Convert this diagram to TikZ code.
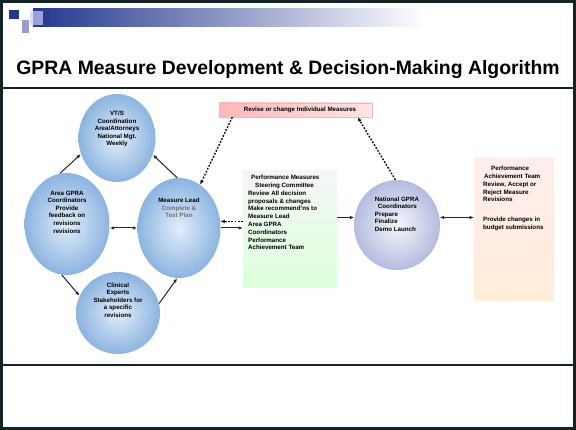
\documentclass[tikz,border=0pt]{standalone}
\usepackage{fontspec}
\setmainfont{Liberation Sans}
\usetikzlibrary{shapes.geometric,arrows.meta}
\definecolor{frame}{RGB}{20,35,35}
\definecolor{logoblue}{RGB}{35,55,140}
\definecolor{bubbleout}{RGB}{140,180,224}
\definecolor{bubblein}{RGB}{226,237,250}
\definecolor{natout}{RGB}{180,188,222}
\definecolor{natin}{RGB}{246,246,252}

\begin{document}
\begin{tikzpicture}[x=1pt, y=-1pt, >={Latex[length=4.5pt,width=3.5pt]},
  bubble/.style={ellipse, inner color=bubblein, outer color=bubbleout, inner sep=0pt},
  bubtext/.style={font=\fontsize{6.2}{7.6}\selectfont\bfseries, align=center, inner sep=0pt},
  notebox/.style={font=\fontsize{6.2}{7.8}\selectfont\bfseries, align=left, inner sep=0pt},
  link/.style={line width=1pt, black!85},
  dotarrow/.style={->, line width=1.3pt, dash pattern=on 1.8pt off 1.5pt}]
  \useasboundingbox (0,0) rectangle (576,430);
  % rahmen
  \fill[white] (0,0) rectangle (576,430);
  \draw[frame, line width=3pt] (1.5,1.5) rectangle (574.5,428.5);
  \draw[frame, line width=1.8pt] (3,88) -- (573,88);
  \draw[frame, line width=2.4pt] (3,365) -- (573,365);
  % logo
  \fill[logoblue] (9,10) rectangle (19,19);
  \fill[blue!30!gray!60] (22,20) rectangle (29,33);
  \shade[left color=logoblue, right color=white] (33,9) rectangle (425,27);
  \fill[blue!20!white, opacity=.7] (30,11) rectangle (43,25);
  \node[font=\fontsize{19.4}{23}\selectfont\bfseries] (title) at (288,70)
    {GPRA Measure Development \& Decision-Making Algorithm};
  % kreise
  \node[bubble, minimum width=77pt, minimum height=88pt] (vts) at (117,138) {};
  \node[bubble, minimum width=85pt, minimum height=102pt] (area) at (67,224) {};
  \node[bubble, minimum width=83pt, minimum height=100pt] (ml) at (179,228) {};
  \node[bubble, minimum width=84pt, minimum height=82pt] (clin) at (118,313) {};
  \node[bubble, inner color=natin, outer color=natout,
    minimum width=86pt, minimum height=90pt] (nat) at (397,225) {};
  % kreistexte
  \node[bubtext] (vtstext) at (117,129)
    {VT/S\\Coordination\\Area/Attorneys\\National Mgt.\\Weekly};
  \node[bubtext] (areatext) at (67,212)
    {Area GPRA\\Coordinators\\Provide\\feedback on\\revisions\\revisions};
  \node[bubtext] (mltext) at (179,208)
    {Measure Lead\\{\color{black!55}Complete \&}\\{\color{black!55}Test Plan}};
  \node[bubtext] (clintext) at (118,300)
    {Clinical\\Experts\\Stakeholders for\\a specific\\revisions};
  \node[bubtext, align=left] (nattext) at (397,214)
    {National GPRA\\\hspace*{3pt}Coordinators\\Prepare\\Finalize\\Demo Launch};
  % kaesten
  \node[notebox, draw=red!25!gray!40, left color=red!28!white, right color=red!10!white,
    minimum width=153pt, minimum height=14pt, align=center] (rev) at (296,110)
    {\hspace*{8pt}Revise or change Individual Measures};
  \node[notebox, top color=gray!7, bottom color=green!14!white, minimum width=94pt,
    minimum height=117pt, anchor=north west] (psc) at (243,170) {};
  \node[notebox, anchor=north west] (psctext) at (248,175)
    {\hspace*{3pt}Performance Measures\\\hspace*{7pt}Steering Committee\\Review All decision\\proposals \& changes\\Make recommend'ns to\\Measure Lead\\Area GPRA\\Coordinators\\Performance\\Achievement Team};
  \node[notebox, top color=red!7!white, bottom color=orange!15!white, minimum width=80pt,
    minimum height=142pt, anchor=north west] (pat) at (474,158) {};
  \node[notebox, anchor=north west] (pattext) at (483,166)
    {\hspace*{8pt}Performance\\\hspace*{1pt}Achievement Team\\Review, Accept or\\Reject Measure\\Revisions\\[12pt]Provide changes in\\budget submissions};
  % pfeile kreise
  \draw[->, link] (area.98) -- (vts.204);
  \draw[->, link] (ml.92) -- (vts.-25);
  \draw[<->, link] (ml.180) -- (ml.180 -| area.east);
  \draw[->, link] (area.-96) -- (clin.156);
  \draw[->, link] (clin.13) -- (ml.-92);
  % pfeile rechts
  \draw[dotarrow] (ml.9 -| psc.west) -- (ml.9);
  \draw[->, link] (ml.0) -- (ml.0 -| psc.west);
  \draw[->, link] (nat.170 -| psc.east) -- (nat.170);
  \draw[<->, link] (nat.10) -- (nat.10 -| pat.west);
  \draw[dotarrow] ([xshift=13pt]rev.south west) -- (ml.64);
  \draw[dotarrow] (nat.92) -- ([xshift=-15pt]rev.south east);
\end{tikzpicture}
\end{document}
